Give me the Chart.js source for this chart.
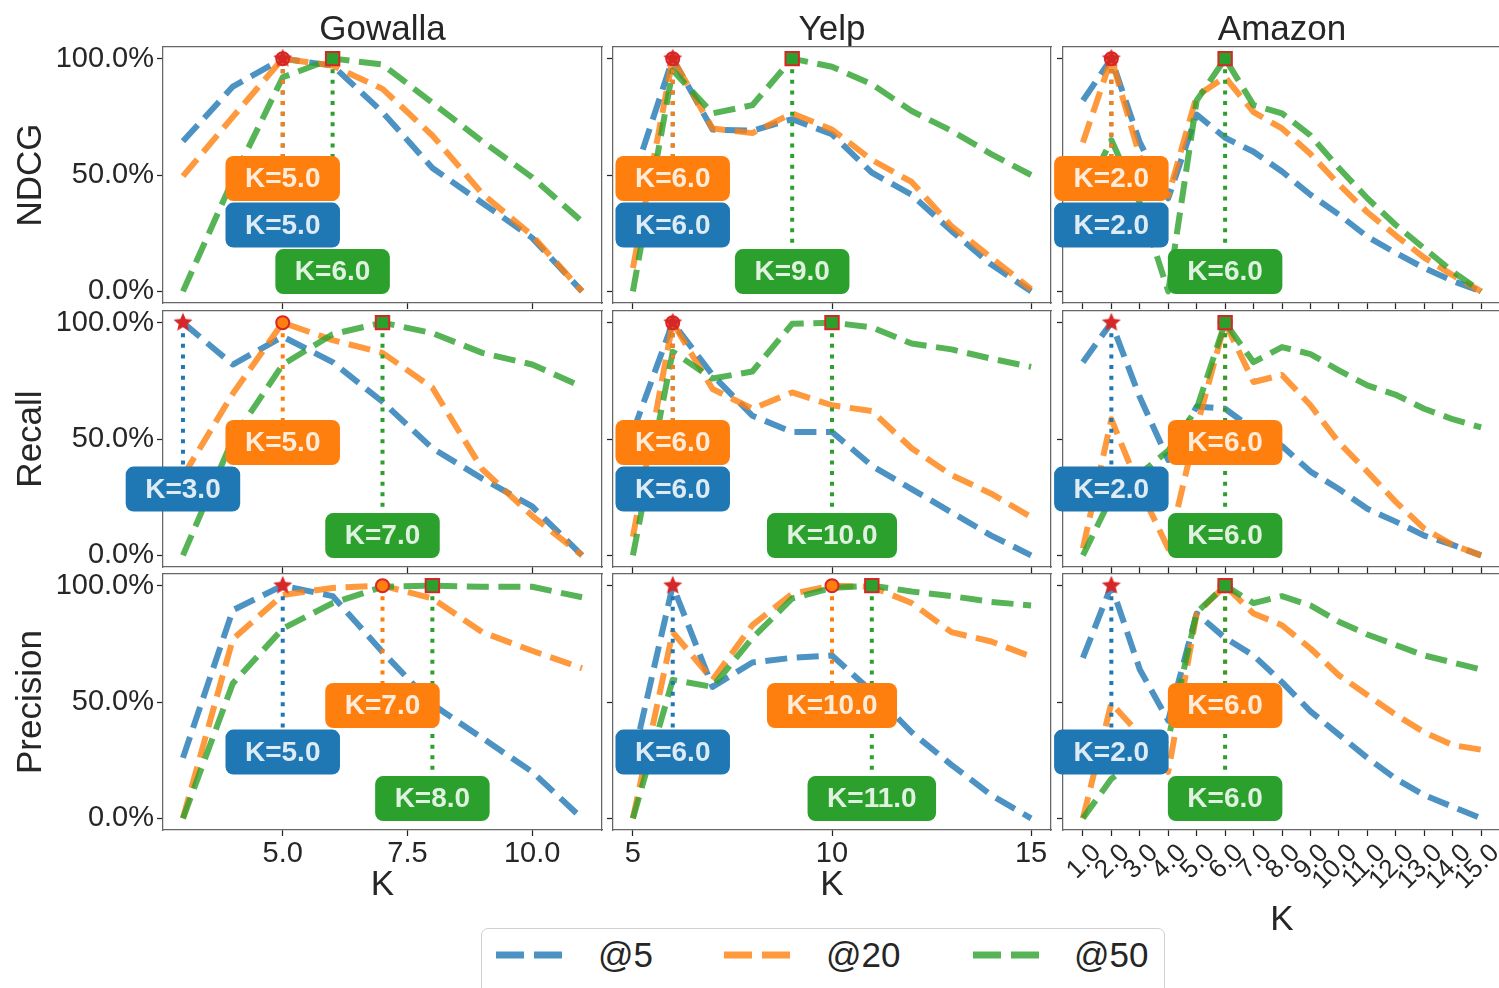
<!DOCTYPE html>
<html>
<head>
<meta charset="utf-8">
<script src="https://cdn.jsdelivr.net/npm/chart.js@4.4.1/dist/chart.umd.min.js"></script>
<style>
  html, body { margin: 0; padding: 0; background: #fff; overflow: hidden; }
  #fig { position: relative; width: 1499px; height: 988px; overflow: hidden; }
  #fig canvas { position: absolute; }
  #legend {
    position: absolute; left: 481px; top: 928px; width: 684px; height: 70px;
    border: 1.5px solid #d0d0d0; border-radius: 7px; box-sizing: border-box; background: #fff;
  }
  #legend svg, #legend span { position: absolute; }
  #legend span { font: 35px "Liberation Sans", Arial, sans-serif; color: #262626; line-height: 40px; }
</style>
</head>
<body>
<div id="fig"><div id="legend"></div></div>
<script>
const FONT = '"Liberation Sans", Arial, sans-serif';
const INK = '#262626';
const FRAME = '#666666';

const datasetNames = ['Gowalla', 'Yelp', 'Amazon'];
const metricNames = ['NDCG', 'Recall', 'Precision'];
const seriesNames = ['@5', '@20', '@50'];

// K values per dataset
const kGowalla = [3, 4, 5, 6, 7, 8, 9, 10, 11];
const kYelp = [5, 6, 7, 8, 9, 10, 11, 12, 13, 14, 15];
const kAmazon = [1, 2, 3, 4, 5, 6, 7, 8, 9, 10, 11, 12, 13, 14, 15];

// tick labels
const xTicksGowalla = [5, 7.5, 10];
const xTicksYelp = [5, 10, 15];
const xTicksAmazon = [1, 2, 3, 4, 5, 6, 7, 8, 9, 10, 11, 12, 13, 14, 15];
const yTicks = [0, 50, 100];

// Gowalla (%)
const gowallaNdcg5 = [64.5, 88, 100, 97, 77, 53, 38, 23, 0];
const gowallaNdcg20 = [49.5, 75, 100, 97, 87, 67, 42, 24, 0];
const gowallaNdcg50 = [0, 48, 92, 100, 97.5, 81, 64.5, 49, 30];
const gowallaRecall5 = [100, 82, 94, 83, 66, 46, 33, 21, 0];
const gowallaRecall20 = [34, 69.5, 100, 92.5, 87, 72, 37, 17, 0];
const gowallaRecall50 = [0, 50, 82, 95, 100, 95.5, 87, 82, 72.5];
const gowallaPrec5 = [26, 89.5, 100, 95.5, 71.5, 49, 34.5, 20, 0];
const gowallaPrec20 = [0, 77, 96, 99, 100, 94.5, 80, 72, 64.5];
const gowallaPrec50 = [0, 58, 81.5, 92.5, 99.5, 100, 99.5, 99.5, 95];

// Yelp (%)
const yelpNdcg5 = [48, 100, 69.5, 69, 74, 67.5, 51, 41.5, 26, 11.5, 0];
const yelpNdcg20 = [10, 100, 70, 68, 76.5, 69.5, 56.5, 47, 28, 14.5, 1];
const yelpNdcg50 = [0, 95, 76.5, 80, 100, 96.5, 89, 77.5, 69, 59, 50];
const yelpRecall5 = [53, 100, 77.5, 60, 53, 53, 38.5, 28.5, 18.5, 8.5, 0];
const yelpRecall20 = [8, 100, 71.5, 63, 70, 64.5, 62, 46, 34.5, 26.5, 16.5];
const yelpRecall50 = [0, 87.5, 76, 79, 99.5, 100, 98, 91, 88.5, 84.5, 81];
const yelpPrec5 = [25, 100, 56.5, 67, 69, 70, 54.5, 37, 23, 10, 0];
const yelpPrec20 = [0, 80, 59.5, 83, 96.5, 100, 99.5, 92.5, 80, 76, 69.5];
const yelpPrec50 = [0, 59.5, 56.5, 77.5, 94.5, 99, 100, 97.5, 95.5, 93, 91.5];

// Amazon (%)
const amazonNdcg5 = [82, 100, 64, 40, 76, 66, 60, 51.5, 41.5, 33, 23.5, 16.5, 10, 4.5, 0];
const amazonNdcg20 = [64, 100, 58, 41, 84, 92, 77, 70, 59, 46, 34, 24, 14.5, 7, 0];
const amazonNdcg50 = [40, 65, 38, 0, 82, 100, 80, 76.5, 67, 53, 40, 28.5, 18.5, 8.5, 0];
const amazonRecall5 = [83, 100, 68, 41, 64, 63, 54, 47, 36, 28.5, 20, 14.5, 8.5, 4.5, 0];
const amazonRecall20 = [3, 58.5, 28.5, 3, 55, 100, 74.5, 77.5, 64.5, 48.5, 36, 23, 11.5, 4.5, 0];
const amazonRecall50 = [0, 25, 35, 45, 63, 100, 83, 89.5, 86.5, 79.5, 73, 69, 63, 58.5, 55];
const amazonPrec5 = [69, 100, 64, 42, 88, 77.5, 70, 58.5, 46, 36, 26, 17, 10, 5, 0];
const amazonPrec20 = [0, 49.5, 36, 20, 88, 100, 88, 83, 73, 61.5, 53, 44.5, 37, 31.5, 29.5];
const amazonPrec50 = [0, 17, 26, 34, 88.5, 100, 92.5, 95.5, 91.5, 84.5, 79, 74.5, 70, 67, 64];

// rows = metrics, columns = datasets
const series = [
    [[gowallaNdcg5, gowallaNdcg20, gowallaNdcg50], [yelpNdcg5, yelpNdcg20, yelpNdcg50], [amazonNdcg5, amazonNdcg20, amazonNdcg50]],
    [[gowallaRecall5, gowallaRecall20, gowallaRecall50], [yelpRecall5, yelpRecall20, yelpRecall50], [amazonRecall5, amazonRecall20, amazonRecall50]],
    [[gowallaPrec5, gowallaPrec20, gowallaPrec50], [yelpPrec5, yelpPrec20, yelpPrec50], [amazonPrec5, amazonPrec20, amazonPrec50]]
];
const kByCol = [kGowalla, kYelp, kAmazon];
const xTicksByCol = [xTicksGowalla, xTicksYelp, xTicksAmazon];
const xFormat = [v => v.toFixed(1), v => String(v), v => v.toFixed(1)];

// styling / layout
const COLORS = ['#1f77b4', '#ff7f0e', '#2ca02c'];
const LINE_COLORS = ['rgba(31,119,180,0.8)', 'rgba(255,127,14,0.8)', 'rgba(44,160,44,0.8)'];
const MARK_EDGE = '#d62728';
const LABEL_Y = [28.5, 48.5, 8.5];   // where the K= boxes sit (percent)
const PLOT_LEFT = [163, 613, 1063];
const PLOT_W = [439, 438, 438];
const PLOT_TOP = [47, 311, 574];
const PLOT_H = 256;

function makeStar(r) {
    const c = document.createElement('canvas');
    const s = Math.ceil(r * 2 + 4);
    c.width = s; c.height = s;
    const g = c.getContext('2d');
    g.beginPath();
    for (let i = 0; i < 10; i++) {
        const rad = i % 2 === 0 ? r : r * 0.45;
        const a = -Math.PI / 2 + i * Math.PI / 5;
        g.lineTo(s / 2 + rad * Math.cos(a), s / 2 + rad * Math.sin(a));
    }
    g.closePath();
    g.fillStyle = MARK_EDGE;
    g.fill();
    return c;
}
const starImg = makeStar(10);

function boxPlugin(items) {
    return {
        id: 'kBoxes',
        afterDatasetsDraw(chart) {
            const { ctx, scales } = chart;
            ctx.save();
            ctx.font = 'bold 28px ' + FONT;
            ctx.textAlign = 'center';
            ctx.textBaseline = 'middle';
            items.forEach(it => {
                const cx = scales.x.getPixelForValue(it.k);
                const cy = scales.y.getPixelForValue(it.y);
                const text = 'K=' + it.k.toFixed(1);
                const w = ctx.measureText(text).width + 39;
                const h = 45;
                ctx.beginPath();
                ctx.roundRect(cx - w / 2, cy - h / 2, w, h, 8);
                ctx.fillStyle = it.color;
                ctx.fill();
                ctx.fillStyle = 'rgba(255,255,255,0.85)';
                ctx.fillText(text, cx, cy + 1);
            });
            ctx.restore();
        }
    };
}

const fig = document.getElementById('fig');

for (let r = 0; r < 3; r++) {
    for (let c = 0; c < 3; c++) {
        const ks = kByCol[c];
        const vals = series[r][c];
        const span = ks[ks.length - 1] - ks[0];
        const xMin = ks[0] - 0.05 * span;
        const xMax = ks[ks.length - 1] + 0.05 * span;

        const left = c === 0 ? 0 : PLOT_LEFT[c] - 14;
        const padL = PLOT_LEFT[c] - left;
        const top = r === 0 ? 0 : PLOT_TOP[r] - 6;
        const padT = PLOT_TOP[r] - top;
        const padB = r === 2 ? (c === 2 ? 120 : 80) : 8;
        const padR = 3;

        const canvas = document.createElement('canvas');
        canvas.width = padL + PLOT_W[c] + padR;
        canvas.height = padT + PLOT_H + padB;
        canvas.style.left = left + 'px';
        canvas.style.top = top + 'px';
        fig.appendChild(canvas);

        const datasets = [];
        const boxes = [];
        vals.forEach((v, i) => {
            datasets.push({
                label: seriesNames[i],
                data: ks.map((k, j) => ({ x: k, y: v[j] })),
                borderColor: LINE_COLORS[i],
                borderWidth: 6,
                borderDash: [22, 9.6],
                borderJoinStyle: 'round',
                pointRadius: 0,
                tension: 0,
                order: 32 - i
            });
        });
        vals.forEach((v, i) => {
            const j = v.indexOf(Math.max(...v));
            const k = ks[j];
            datasets.push({
                data: [{ x: k, y: v[j] }, { x: k, y: LABEL_Y[i] }],
                borderColor: COLORS[i],
                borderWidth: 4,
                borderDash: [4, 6.6],
                pointRadius: 0,
                order: 22 - i
            });
            boxes.push({ k: k, y: LABEL_Y[i], color: COLORS[i] });
        });
        // peak markers: star (@5), circle (@20), square (@50)
        const markerStyle = [
            { pointStyle: starImg, pointRadius: 9, order: 10 },
            { pointStyle: 'circle', pointRadius: 6.5, order: 12 },
            { pointStyle: 'rect', pointRadius: 9.5, order: 11 }
        ];
        vals.forEach((v, i) => {
            const j = v.indexOf(Math.max(...v));
            datasets.push(Object.assign({
                data: [{ x: ks[j], y: v[j] }],
                showLine: false,
                pointBackgroundColor: COLORS[i],
                pointBorderColor: MARK_EDGE,
                pointBorderWidth: 2
            }, markerStyle[i]));
        });

        const tickFont = { size: c === 2 ? 26 : 29, family: FONT };
        const frameBorder = { display: true, color: FRAME, width: 1.25 };
        const tickGrid = { display: true, drawOnChartArea: false, drawTicks: true, tickLength: 6, tickWidth: 1.25, tickColor: INK };
        const plainGrid = { display: true, drawOnChartArea: false, drawTicks: false };

        new Chart(canvas, {
            type: 'line',
            data: { datasets: datasets },
            plugins: [boxPlugin(boxes)],
            options: {
                responsive: false,
                animation: false,
                devicePixelRatio: 1,
                events: [],
                layout: { padding: 0, autoPadding: false },
                plugins: {
                    legend: { display: false },
                    tooltip: { enabled: false },
                    title: {
                        display: r === 0,
                        fullSize: false,
                        text: datasetNames[c],
                        color: INK,
                        font: { size: 35, family: FONT, weight: 'normal', lineHeight: '32px' },
                        padding: { top: 14, bottom: 0 }
                    }
                },
                scales: {
                    x: {
                        type: 'linear',
                        position: 'bottom',
                        min: xMin,
                        max: xMax,
                        afterBuildTicks: s => { s.ticks = xTicksByCol[c].map(v => ({ value: v })); },
                        afterFit: s => { s.height = padB; s.paddingLeft = 0; s.paddingRight = 0; },
                        ticks: {
                            display: r === 2,
                            autoSkip: false,
                            minRotation: c === 2 ? 45 : 0,
                            maxRotation: c === 2 ? 45 : 0,
                            labelOffset: c === 2 ? 14 : 0,
                            padding: c === 2 ? 2 : 1,
                            color: INK,
                            font: tickFont,
                            callback: v => xFormat[c](v)
                        },
                        grid: tickGrid,
                        border: frameBorder,
                        title: {
                            display: r === 2,
                            text: 'K',
                            color: INK,
                            font: { size: 35, family: FONT },
                            padding: { top: 0, bottom: c === 2 ? 9 : 4 }
                        }
                    },
                    xTop: {
                        type: 'linear',
                        position: 'top',
                        afterFit: s => { s.height = r === 0 ? 1 : padT; s.paddingLeft = 0; s.paddingRight = 0; },
                        ticks: { display: false },
                        grid: plainGrid,
                        border: frameBorder
                    },
                    y: {
                        type: 'linear',
                        position: 'left',
                        min: -5,
                        max: 105,
                        afterBuildTicks: s => { s.ticks = yTicks.map(v => ({ value: v })); },
                        afterFit: s => { s.width = padL; s.paddingTop = 0; s.paddingBottom = 0; },
                        ticks: {
                            display: c === 0,
                            padding: 3,
                            color: INK,
                            font: { size: 29, family: FONT },
                            callback: v => v.toFixed(1) + '%'
                        },
                        grid: tickGrid,
                        border: frameBorder,
                        title: {
                            display: c === 0,
                            text: metricNames[r],
                            color: INK,
                            font: { size: 35, family: FONT },
                            padding: { top: 10, bottom: 0 }
                        }
                    },
                    yRight: {
                        type: 'linear',
                        position: 'right',
                        afterFit: s => { s.width = padR; s.paddingTop = 0; s.paddingBottom = 0; },
                        ticks: { display: false },
                        grid: plainGrid,
                        border: frameBorder
                    }
                }
            }
        });
    }
}

// legend
const legend = document.getElementById('legend');
const legendSampleX = [14, 242, 491];
const legendTextX = [116, 344, 592];
seriesNames.forEach((name, i) => {
    const svg = document.createElementNS('http://www.w3.org/2000/svg', 'svg');
    svg.setAttribute('width', '66');
    svg.setAttribute('height', '10');
    svg.style.left = legendSampleX[i] + 'px';
    svg.style.top = '21px';
    const line = document.createElementNS('http://www.w3.org/2000/svg', 'line');
    line.setAttribute('x1', '0'); line.setAttribute('y1', '5');
    line.setAttribute('x2', '66'); line.setAttribute('y2', '5');
    line.setAttribute('stroke', LINE_COLORS[i]);
    line.setAttribute('stroke-width', '7');
    line.setAttribute('stroke-dasharray', '28 10');
    svg.appendChild(line);
    legend.appendChild(svg);
    const span = document.createElement('span');
    span.textContent = name;
    span.style.left = legendTextX[i] + 'px';
    span.style.top = '6px';
    legend.appendChild(span);
});
</script>
</body>
</html>
